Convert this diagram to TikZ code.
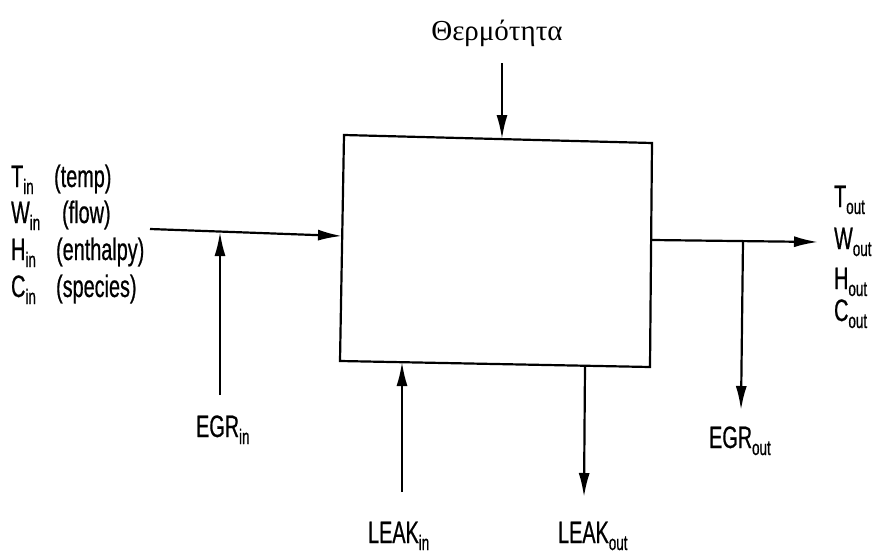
\documentclass[tikz,border=0pt]{standalone}
\usepackage{fontspec}
\usetikzlibrary{arrows.meta}
\newfontfamily\cond[FakeStretch=0.64,FakeBold=0.6]{Liberation Sans}
\newfontfamily\grk{Liberation Serif}
\newcommand{\mylbl}[2]{{\cond\fontsize{31}{31}\selectfont #1\raisebox{-7pt}{\fontsize{21}{21}\selectfont #2}}}
\newcommand{\mytxt}[1]{{\cond\fontsize{31}{31}\selectfont #1}}
\begin{document}
\begin{tikzpicture}[x=1pt,y=-1pt,line width=2.2pt,
  arr/.style={-{Latex[length=24pt,width=11pt]}},
  lab/.style={inner sep=0pt,anchor=base west}]
\useasboundingbox[fill=white] (0,0) rectangle (879,554);
% box
\coordinate (b1) at (344,135);
\coordinate (b2) at (652,143);
\coordinate (b3) at (650,367);
\coordinate (b4) at (340,361);
\draw (b1) -- (b2) -- (b3) -- (b4) -- cycle;
% heat
\node[anchor=base,inner sep=0pt] (heat) at (497,40) {\grk\fontsize{29}{29}\selectfont Θερμότητα};
\coordinate (qtop) at (502,63);
\coordinate (qbot) at (502,139);
\draw[arr] (qtop) -- (qbot);
% input
\coordinate (inS) at (150,229);
\coordinate (inE) at (342,236);
\draw[arr] (inS) -- (inE);
\coordinate (egrinS) at (220,395);
\coordinate (egrinE) at (220,232);
\draw[arr] (egrinS) -- (egrinE);
% output
\coordinate (outS) at (652,240);
\coordinate (outE) at (818,242);
\draw[arr] (outS) -- (outE);
\coordinate (egroutS) at (743,241);
\coordinate (egroutE) at (741,410);
\draw[arr] (egroutS) -- (egroutE);
% leaks
\coordinate (lkinS) at (402,492);
\coordinate (lkinE) at (402,362);
\draw[arr] (lkinS) -- (lkinE);
\coordinate (lkoutS) at (585,366);
\coordinate (lkoutE) at (584,497);
\draw[arr] (lkoutS) -- (lkoutE);
% left labels
\node[lab] (tin) at (10,187) {\mylbl{T}{in}};
\node[lab] (win) at (10,223) {\mylbl{W}{in}};
\node[lab] (hin) at (10,260) {\mylbl{H}{in}};
\node[lab] (cin) at (10,297) {\mylbl{C}{in}};
\node[lab] (tinp) at (53,187) {\mytxt{(temp)}};
\node[lab] (winp) at (61,223) {\mytxt{(flow)}};
\node[lab] (hinp) at (55,260) {\mytxt{(enthalpy)}};
\node[lab] (cinp) at (55,297) {\mytxt{(species)}};
% right labels
\node[lab] (tout) at (833,207) {\mylbl{T}{out}};
\node[lab] (wout) at (833,249) {\mylbl{W}{out}};
\node[lab] (hout) at (833,289) {\mylbl{H}{out}};
\node[lab] (cout) at (833,321) {\mylbl{C}{out}};
% bottom labels
\node[lab] (egrin) at (195,437) {\mylbl{EGR}{in}};
\node[lab] (egrout) at (708,448) {\mylbl{EGR}{out}};
\node[lab] (leakin) at (367,543) {\mylbl{LEAK}{in}};
\node[lab] (leakout) at (557,543) {\mylbl{LEAK}{out}};
\end{tikzpicture}
\end{document}
